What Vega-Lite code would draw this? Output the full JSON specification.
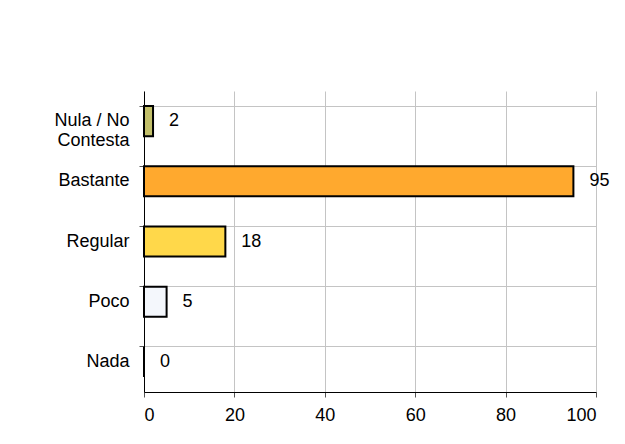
{
  "$schema": "https://vega.github.io/schema/vega-lite/v6.json",
  "width": 452,
  "height": 301,
  "autosize": "none",
  "padding": {"left": 144, "top": 91, "right": 29, "bottom": 52},
  "background": "white",
  "data": {"values": [
    {"respuesta": "Nula / No Contesta", "valor": 2},
    {"respuesta": "Bastante", "valor": 95},
    {"respuesta": "Regular", "valor": 18},
    {"respuesta": "Poco", "valor": 5},
    {"respuesta": "Nada", "valor": 0}
  ]},
  "encoding": {
    "y": {
      "field": "respuesta", "type": "nominal",
      "sort": ["Nula / No Contesta", "Bastante", "Regular", "Poco", "Nada"],
      "scale": {"paddingInner": 0.5, "paddingOuter": 0.25},
      "axis": {
        "title": null, "bandPosition": 0, "grid": true, "gridColor": "#c4c4c4", "gridWidth": 1,
        "tickSize": 5, "tickColor": "#555555", "domainColor": "#000000",
        "labelFontSize": 18, "labelColor": "#000000", "labelPadding": 10, "labelLineHeight": 20,
        "labelExpr": "datum.value == 'Nula / No Contesta' ? ['Nula / No', 'Contesta'] : datum.value"
      }
    },
    "x": {
      "field": "valor", "type": "quantitative",
      "scale": {"domain": [0, 100], "nice": false},
      "axis": {
        "title": null, "values": [0, 20, 40, 60, 80, 100], "grid": true, "gridColor": "#c4c4c4",
        "tickSize": 5, "tickColor": "#555555", "domainColor": "#000000",
        "labelFontSize": 18, "labelColor": "#000000", "labelPadding": 9
      }
    }
  },
  "layer": [
    {
      "mark": {"type": "bar", "stroke": "#000000", "strokeWidth": 2},
      "encoding": {
        "color": {
          "field": "respuesta", "type": "nominal", "legend": null,
          "scale": {
            "domain": ["Nula / No Contesta", "Bastante", "Regular", "Poco", "Nada"],
            "range": ["#c2bf6a", "#ffa92e", "#ffd84a", "#f4f7fc", "#ffffff"]
          }
        }
      }
    },
    {
      "mark": {"type": "text", "align": "left", "baseline": "middle", "dx": 16, "fontSize": 18, "color": "#000000"},
      "encoding": {"text": {"field": "valor", "type": "quantitative"}}
    }
  ],
  "config": {"view": {"stroke": null}, "font": "Liberation Sans"}
}
